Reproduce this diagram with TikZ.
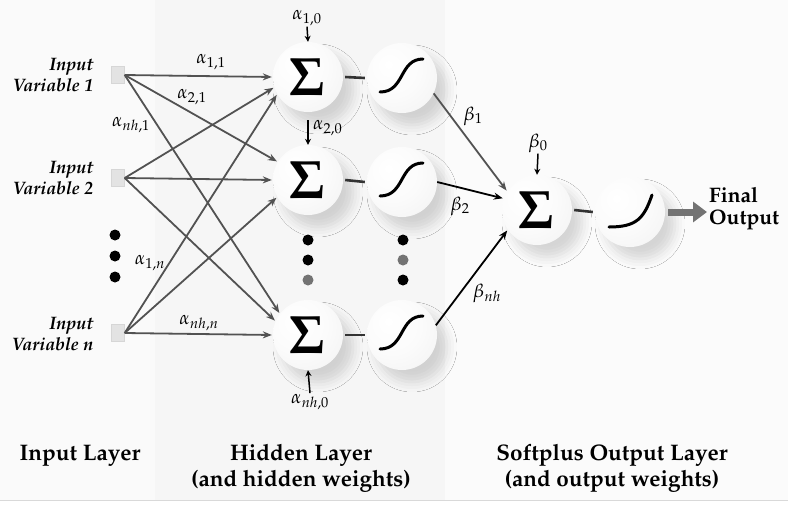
\documentclass[tikz,border=0pt]{standalone}
\usepackage[T1]{fontenc}
\usepackage{mathpazo}
\usetikzlibrary{arrows.meta,shadows.blur,calc}
\pgfdeclareradialshading{sphere}{\pgfpoint{-10bp}{10bp}}{color(0bp)=(white); color(20bp)=(white!97!gray); color(38bp)=(gray!9); color(50bp)=(gray!16); color(70bp)=(gray!18)}
\tikzset{
  ball/.style={circle, minimum size=70pt, inner sep=0pt, shading=sphere,
    blur shadow={shadow xshift=10pt, shadow yshift=-12pt, shadow blur radius=10pt, shadow opacity=15}},
  sumtxt/.style={font=\fontsize{54}{54}\selectfont},
  insq/.style={rectangle, minimum width=13pt, minimum height=17pt, inner sep=0pt, fill=gray!22, draw=gray!32},
  wire/.style={draw=black!68, line width=1.8pt, -{Stealth[length=9pt,width=7pt]}, shorten >=1pt},
  bwire/.style={draw=black, line width=1.8pt, -{Stealth[length=9pt,width=7pt]}, shorten >=1pt},
  bias/.style={draw=black, line width=1.5pt, -{Stealth[length=6pt,width=6pt]}},
  curve/.style={line width=3pt, line cap=round},
  link/.style={line width=2.6pt, draw=black!80},
  wlab/.style={font=\fontsize{19}{19}\selectfont, inner sep=1pt},
  invar/.style={font=\fontsize{18}{21}\selectfont\bfseries\itshape, align=right, anchor=east},
  layer/.style={font=\fontsize{22.5}{26}\selectfont\bfseries, align=center},
  dotb/.style={circle, fill=black, minimum size=11pt, inner sep=0pt},
  dotg/.style={circle, fill=black!55, minimum size=11pt, inner sep=0pt}
}
\newcommand\sigcurve[1]{\draw[curve] ($(#1)+(-22,14)$) .. controls ($(#1)+(3,14)$) and ($(#1)+(-3,-19)$) .. ($(#1)+(21,-19)$);}
\begin{document}
\begin{tikzpicture}[x=1pt,y=-1pt]
\useasboundingbox (0,0) rectangle (788,507);
% background panels
\fill[white] (0,0) rectangle (788,507);
\fill[gray!4] (0,0) rectangle (155,500);
\fill[gray!7] (155,0) rectangle (445,500);
\fill[gray!3] (445,0) rectangle (788,500);
\draw[gray!30, line width=1pt] (0,500) -- (788,500);

% inputs
\node[insq] (in1) at (118,75) {};
\node[insq] (in2) at (118,178) {};
\node[insq] (inn) at (118,333) {};
\node[invar] (l1) at (97,75) {Input\\Variable 1};
\node[invar] (l2) at (97,178) {Input\\Variable 2};
\node[invar] (ln) at (97,334) {Input\\Variable \textit{n}};
\node[dotb] (d1) at (115,235) {};
\node[dotb] (d2) at (115,256) {};
\node[dotb] (d3) at (115,277) {};

% hidden nodes
\node[ball] (h1) at (308,77) {};
\node[ball] (h2) at (308,180) {};
\node[ball] (hn) at (308,335) {};
\node[ball] (s1) at (402,78) {};
\node[ball] (s2) at (402,182) {};
\node[ball] (sn) at (402,335) {};
\node[ball] (o) at (537,210) {};
\node[ball] (p) at (630,212) {};
\foreach \n in {h1,h2,hn,o} \node[sumtxt] at (\n) {$\mathbf{\Sigma}$};
\sigcurve{s1}
\sigcurve{s2}
\sigcurve{sn}
\draw[curve] ($(p)+(-21,15)$) .. controls ($(p)+(7,15)$) and ($(p)+(14,6)$) .. ($(p)+(22,-17)$);

\foreach \a/\b in {h1/s1,h2/s2,hn/sn,o/p}
  \draw[link] ($(\a.east)+(2,0)$) -- ($(\b.west)+(-2,0)$);

% hidden dots
\node[dotb] (e1) at (308,240) {};
\node[dotb] (e2) at (308,260) {};
\node[dotg] (e3) at (308,280) {};
\node[dotb] (f1) at (403,240) {};
\node[dotg] (f2) at (403,260) {};
\node[dotb] (f3) at (403,280) {};

% input connections
\draw[wire] (in1.east) -- (h1.180);
\draw[wire] (in2.east) -- (h1.197);
\draw[wire] (inn.east) -- (h1.209);
\draw[wire] (in1.east) -- (h2.149);
\draw[wire] (in2.east) -- (h2.180);
\draw[wire] (inn.east) -- (h2.209);
\draw[wire] (in1.east) -- (hn.143);
\draw[wire] (in2.east) -- (hn.157);
\draw[wire] (inn.east) -- (hn.180);

\node[wlab] (w11) at (211,62) {$\alpha_{1,1}$};
\node[wlab] (w21) at (192,97) {$\alpha_{2,1}$};
\node[wlab] (wh1) at (131,125) {$\alpha_{nh,1}$};
\node[wlab] (w1n) at (150,263) {$\alpha_{1,n}$};
\node[wlab] (whn) at (199,323) {$\alpha_{nh,n}$};

% biases
\node[wlab] (b10) at (307,18) {$\alpha_{1,0}$};
\draw[bias] (b10.south) -- (h1.north);
\node[wlab, anchor=west] (b20) at (312,128) {$\alpha_{2,0}$};
\coordinate (b20s) at (308,120);
\draw[bias] (b20s) -- (h2.north);
\node[wlab] (bn0) at (310,402) {$\alpha_{nh,0}$};
\draw[bias] (bn0.north) -- (hn.south);
\node[wlab] (bo0) at (538,143) {$\beta_{0}$};
\draw[bias] (bo0.south) -- (o.north);

% output weights
\draw[wire] (s1.-26) -- (o.148);
\draw[bwire] (s2.0) -- (o.161);
\draw[bwire] (sn.16) -- (o.214);
\node[wlab] (bt1) at (473,116) {$\beta_{1}$};
\node[wlab] (bt2) at (460,206) {$\beta_{2}$};
\node[wlab] (btn) at (487,293) {$\beta_{nh}$};

% final output
\coordinate (fo) at (707,212);
\draw[draw=black!55, line width=7pt, -{Triangle[length=14pt,width=20pt]}] ($(p.east)+(3,0)$) -- (fo);
\node[font=\fontsize{21}{22}\selectfont\bfseries, align=left, anchor=west, inner sep=1pt] (fout) at (708,209) {Final\\Output};

% layer labels
\node[layer] (L1) at (80,456) {Input Layer};
\node[layer] (L2) at (301,468) {Hidden Layer\\(and hidden weights)};
\node[layer] (L3) at (612,468) {Softplus Output Layer\\(and output weights)};
\end{tikzpicture}
\end{document}
